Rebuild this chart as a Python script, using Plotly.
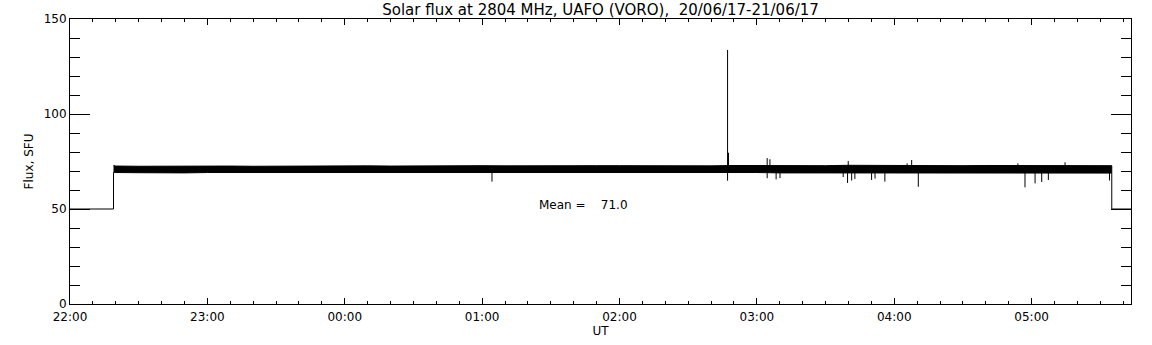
import plotly.graph_objects as go

# ---- data (minutes after 22:00 UT, flux in SFU) ----
title_text = "Solar flux at 2804 MHz, UAFO (VORO),\u00a0\u00a020/06/17-21/06/17"
tick_minutes = [0, 60, 120, 180, 240, 300, 360, 420]
tick_labels = ["22:00", "23:00", "00:00", "01:00", "02:00", "03:00", "04:00", "05:00"]
x_end = 463.4

off_level = 50.0
start_min = 19.0
stop_min = 455.0

env_t = [19, 20, 30, 40, 50, 60, 70, 80, 90, 100, 110, 120, 130, 140, 150, 160, 170, 180,
         190, 200, 210, 220, 230, 240, 250, 260, 270, 280, 290, 300, 310, 320, 330, 340,
         350, 360, 370, 380, 390, 400, 410, 420, 430, 440, 450, 455]
env_hi = [72.9, 72.6, 72.5, 72.6, 72.4, 72.5, 72.6, 72.5, 72.6, 72.7, 72.6, 72.7, 72.7, 72.6,
          72.7, 72.8, 72.7, 72.8, 72.7, 72.8, 72.8, 72.7, 72.8, 72.8, 72.7, 72.8, 72.8, 72.7,
          72.9, 72.8, 72.9, 72.8, 72.8, 73.0, 72.9, 72.9, 73.0, 72.8, 72.8, 72.9, 72.9, 72.9,
          73.0, 72.9, 72.9, 72.8]
env_lo = [69.3, 69.2, 69.1, 69.2, 69.0, 69.2, 69.2, 69.1, 69.2, 69.2, 69.3, 69.3, 69.2, 69.3,
          69.2, 69.3, 69.3, 69.2, 69.3, 69.3, 69.3, 69.4, 69.3, 69.3, 69.3, 69.2, 69.3, 69.3,
          69.2, 69.2, 69.0, 69.1, 69.1, 68.8, 68.8, 68.9, 68.8, 69.0, 69.0, 69.0, 69.0, 68.8,
          68.9, 69.0, 68.9, 68.9]

spike_t = [184.3, 287.2, 287.2, 287.6, 304.5, 304.5, 305.7, 308.4, 310.1, 337.7, 339.6, 339.9,
           341.4, 342.8, 350.1, 351.6, 355.9, 365.6, 367.6, 370.5, 414.0, 417.1, 421.5, 424.4,
           427.3, 434.6, 454.0]
spike_v = [64.4, 133.7, 64.9, 79.6, 76.8, 66.2, 76.2, 65.6, 66.3, 66.8, 63.7, 75.3,
           65.0, 65.8, 65.3, 66.0, 64.4, 74.0, 75.8, 61.7, 74.0, 61.4, 63.5, 64.2,
           65.3, 74.6, 65.0]

mean_value = 71.0
mean_pos = (204.0, 52.1)

# ---- figure ----
fig = go.Figure()

# off-sun level before and after the observation
fig.add_trace(go.Scatter(x=[0, start_min, start_min], y=[off_level, off_level, env_lo[0]],
                         mode="lines", line=dict(color="black", width=1), hoverinfo="skip"))
fig.add_trace(go.Scatter(x=[stop_min, stop_min, x_end], y=[env_lo[-1], off_level, off_level],
                         mode="lines", line=dict(color="black", width=1), hoverinfo="skip"))

# noisy flux band
fig.add_trace(go.Scatter(x=env_t + env_t[::-1], y=env_hi + env_lo[::-1],
                         mode="lines", fill="toself", fillcolor="black",
                         line=dict(color="black", width=1), hoverinfo="skip"))

# individual excursions
sx, sy = [], []
for t, v in zip(spike_t, spike_v):
    sx += [t, t, None]
    sy += [mean_value, v, None]
fig.add_trace(go.Scatter(x=sx, y=sy, mode="lines", line=dict(color="black", width=1),
                         hoverinfo="skip"))

fig.add_annotation(x=mean_pos[0], y=mean_pos[1], xref="x", yref="y",
                   text=f"Mean =\u00a0\u00a0\u00a0\u00a0{mean_value:.1f}", showarrow=False,
                   xanchor="left", yanchor="middle",
                   font=dict(family="DejaVu Sans", size=12, color="black"))

fig.update_layout(
    width=1152, height=345,
    margin=dict(l=70, r=21, t=19, b=41),
    paper_bgcolor="white", plot_bgcolor="white",
    showlegend=False,
    font=dict(family="DejaVu Sans", size=12, color="black"),
    title=dict(text=title_text, x=0.5213, xanchor="center", y=0.972, yanchor="middle",
               font=dict(family="DejaVu Sans", size=15, color="black")),
)
fig.update_xaxes(
    range=[0, x_end], tickmode="array", tickvals=tick_minutes, ticktext=tick_labels,
    showgrid=False, zeroline=False, showline=True, linecolor="black", linewidth=1,
    mirror="allticks", ticks="inside", ticklen=6, tickcolor="black",
    minor=dict(ticks="inside", ticklen=3, dtick=10, tick0=0, tickcolor="black", showgrid=False),
    title=dict(text="UT", standoff=0, font=dict(size=12)),
    tickfont=dict(size=12), automargin=False, ticklabelstandoff=2,
)
fig.update_yaxes(
    range=[0, 150], tickmode="array", tickvals=[0, 50, 100, 150],
    showgrid=False, zeroline=False, showline=True, linecolor="black", linewidth=1,
    mirror="allticks", ticks="inside", ticklen=20, tickcolor="black",
    minor=dict(ticks="inside", ticklen=10, dtick=10, tick0=0, tickcolor="black", showgrid=False),
    title=dict(text="Flux, SFU", standoff=7, font=dict(size=12)),
    tickfont=dict(size=12), automargin=False,
)

fig.write_html("out.html", config={"displayModeBar": False},
               post_script="document.body.style.margin='0';")
